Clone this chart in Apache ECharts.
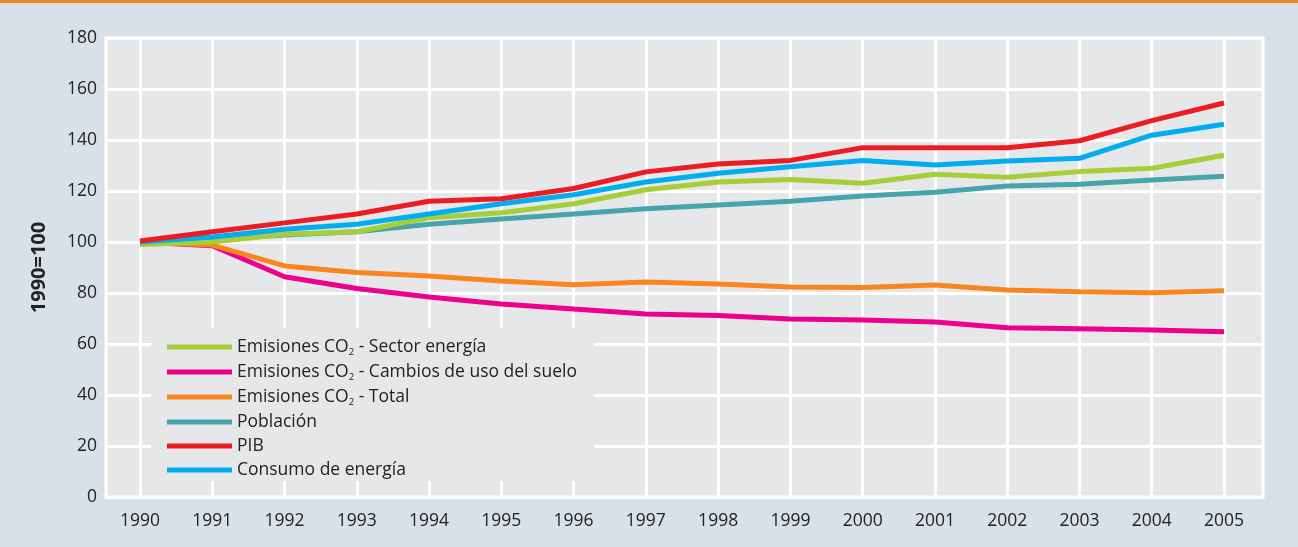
<!DOCTYPE html>
<html>
<head>
  <meta charset="UTF-8">
  <title>Indicadores 1990=100</title>
  <style>
    html, body { margin: 0; padding: 0; background: #d9e1e8; }
    #chart { width: 1298px; height: 547px; }
  </style>
  <script src="https://cdn.jsdelivr.net/npm/echarts@6/dist/echarts.min.js"></script>
</head>
<body>
  <div id="chart"></div>
  <script>
    var years = ['1990', '1991', '1992', '1993', '1994', '1995', '1996', '1997',
                 '1998', '1999', '2000', '2001', '2002', '2003', '2004', '2005'];

    var seriesNames = [
      'Emisiones CO2 - Sector energía',
      'Emisiones CO2 - Cambios de uso del suelo',
      'Emisiones CO2 - Total',
      'Población',
      'PIB',
      'Consumo de energía'
    ];

    var sectorEnergia = [99, 100, 103, 104, 109.5, 111.5, 115, 120.5, 123.5, 124.5, 123, 126.6, 125.4, 127.6, 128.9, 134];
    var usoSuelo      = [100, 98.5, 86.4, 81.8, 78.4, 75.7, 73.7, 71.8, 71.2, 69.8, 69.4, 68.6, 66.4, 66, 65.5, 64.8];
    var total         = [100, 98.8, 90.6, 88, 86.7, 84.7, 83.2, 84.3, 83.5, 82.4, 82.2, 83.1, 81.2, 80.5, 80.1, 80.9];
    var poblacion     = [99.5, 101, 102.7, 104, 107, 109, 111, 113, 114.5, 116, 118, 119.5, 122, 122.6, 124.3, 125.8];
    var pib           = [100.4, 104, 107.5, 111, 116, 117, 121, 127.5, 130.6, 132, 137, 137, 137, 139.7, 147.6, 154.5];
    var consumo       = [100, 102, 105, 107, 111, 115, 118.5, 123.5, 127, 129.5, 132, 130.2, 131.8, 132.8, 141.9, 146.2];

    var colors = ['#a6ce39', '#ec008c', '#f7861e', '#47a4aa', '#ed1c24', '#00aeef'];
    var values = [sectorEnergia, usoSuelo, total, poblacion, pib, consumo];
    var zOrder = [4, 2, 3, 3, 6, 5];

    var font = '"Open Sans", Lato, sans-serif';
    var chart = echarts.init(document.getElementById('chart'));

    var option = {
      backgroundColor: '#d9e1e8',
      animation: false,
      graphic: [
        { type: 'rect', shape: { x: 0, y: 0, width: 1298, height: 3 }, style: { fill: '#ef8a23' } }
      ],
      grid: [
        // fondo gris con las líneas horizontales
        { left: 106, right: 35, top: 38, bottom: 50, show: true,
          backgroundColor: '#e6e7e9', borderColor: '#ffffff', borderWidth: 3 },
        // área de datos: 1990 a 2005
        { left: 140, right: 74, top: 38, bottom: 50 }
      ],
      xAxis: [
        { gridIndex: 0, type: 'value', show: false, min: 0, max: 1 },
        {
          gridIndex: 1,
          type: 'category',
          data: years,
          boundaryGap: false,
          axisLine: { show: false },
          axisTick: { show: false },
          axisLabel: { color: '#222', fontSize: 17.5, fontFamily: font, margin: 15, interval: 0 },
          splitLine: { show: true, interval: 0, lineStyle: { color: '#ffffff', width: 3 } }
        }
      ],
      yAxis: [
        {
          gridIndex: 0,
          type: 'value',
          min: 0, max: 180, interval: 20,
          name: '1990=100',
          nameLocation: 'middle',
          nameGap: 57,
          nameTextStyle: { color: '#222', fontSize: 20, fontWeight: 'bold', fontFamily: font },
          axisLine: { show: false },
          axisTick: { show: false },
          axisLabel: { color: '#222', fontSize: 17.5, fontFamily: font, margin: 9 },
          splitLine: { lineStyle: { color: '#ffffff', width: 3 } }
        },
        { gridIndex: 1, type: 'value', min: 0, max: 180, show: false }
      ],
      legend: {
        orient: 'vertical',
        left: 151,
        top: 328,
        padding: [10, 17, 2, 16],
        backgroundColor: '#e6e7e9',
        itemWidth: 65,
        itemHeight: 5,
        itemGap: 6,
        icon: 'rect',
        data: seriesNames,
        formatter: function (name) {
          if (name.indexOf('CO2') >= 0) {
            var parts = name.split('CO2');
            return '{t|' + parts[0] + 'CO}{s|2}{t|' + parts[1] + '}';
          }
          return '{t|' + name + '}';
        },
        textStyle: {
          color: '#222',
          rich: {
            t: { fontSize: 17.5, fontFamily: font, color: '#222', lineHeight: 20 },
            s: { fontSize: 9.5, fontFamily: font, color: '#222', verticalAlign: 'bottom', padding: [8, 0, 0, 0] }
          }
        }
      },
      series: seriesNames.map(function (n, i) {
        return {
          name: n,
          type: 'line',
          xAxisIndex: 1,
          yAxisIndex: 1,
          data: values[i],
          symbol: 'none',
          z: zOrder[i],
          itemStyle: { color: colors[i] },
          lineStyle: { color: colors[i], width: 5 }
        };
      })
    };

    chart.setOption(option);
  </script>
</body>
</html>
